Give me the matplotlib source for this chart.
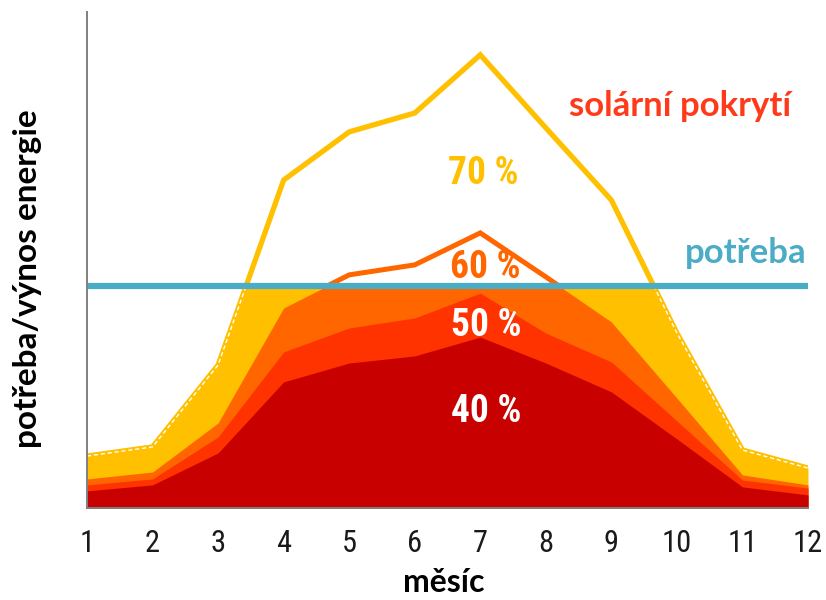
import matplotlib
matplotlib.use("Agg")
import matplotlib.pyplot as plt
from matplotlib.patches import Rectangle
from matplotlib import font_manager
import numpy as np

# ---- data (relative units, demand = 100) ----
months = [1, 2, 3, 4, 5, 6, 7, 8, 9, 10, 11, 12]
demand = 100.0
yield_70 = [23.4, 27.5, 64.4, 147.7, 169.4, 177.9, 204.1, 171.2, 138.7, 78.8, 26.1, 18.0]
yield_60 = [13.1, 16.2, 38.3, 90.1, 105.0, 109.5, 123.9, 104.1, 83.8, 49.5, 14.9, 10.4]
yield_50 = [10.4, 13.1, 32.0, 70.3, 81.1, 85.6, 96.8, 78.8, 65.8, 39.2, 12.6, 9.0]
yield_40 = [7.7, 10.4, 24.8, 56.8, 65.3, 68.5, 77.0, 65.3, 52.3, 31.1, 9.5, 5.9]
tick_labels = [str(m) for m in months]

names = {f.name for f in font_manager.fontManager.ttflist}
narrow = "DejaVu Sans"
for cand in ["Liberation Sans Narrow", "Roboto Condensed", "Open Sans Condensed"]:
    if cand in names:
        narrow = cand
        break
label_font = "Lato" if "Lato" in names else "DejaVu Sans"

YELLOW = "#FFC000"
ORANGE = "#FF6600"
RED = "#FF3300"
DARKRED = "#C80000"
BLUE = "#4BACC6"

fig = plt.figure(figsize=(8.26, 6.0), dpi=100)
ax = fig.add_axes([87/826, 1 - 508/600, (808-87)/826, (508-12)/600])
ax.set_xlim(1, 12)
ax.set_ylim(0, 223.4)

x = np.array(months, dtype=float)

# lines (under the fills)
ax.plot(x, yield_70, color=YELLOW, lw=3.8, zorder=1, solid_joinstyle="miter")
ax.plot(x, yield_60, color=ORANGE, lw=3.6, zorder=1, solid_joinstyle="miter")

clip = Rectangle((1, 0), 11, demand, transform=ax.transData)
for vals, col in [(yield_70, YELLOW), (yield_60, ORANGE), (yield_50, RED), (yield_40, DARKRED)]:
    f = ax.fill_between(x, 0, vals, color=col, lw=0, zorder=2)
    f.set_clip_path(clip)
# white dashed edge of the 70 % fill
edge, = ax.plot(x, yield_70, color="white", lw=1.0, ls=(0, (3, 2)), zorder=2.5)
edge.set_clip_path(Rectangle((1, 0), 11, demand - 1.5, transform=ax.transData))

ax.axhline(demand, color=BLUE, lw=4.5, zorder=3)

for s in ["top", "right"]:
    ax.spines[s].set_visible(False)
for s in ["left", "bottom"]:
    ax.spines[s].set_color("#808080")
    ax.spines[s].set_linewidth(1.4)
    ax.spines[s].set_zorder(4)
ax.set_yticks([])
ax.set_xticks(months)
ax.set_xticklabels(tick_labels, fontfamily=narrow, fontsize=22, fontstretch="condensed")
ax.tick_params(axis="x", length=0, pad=15, colors="#1a1a1a")

def ptxt(px, py, s, **kw):
    fig.text(px/826, 1 - py/600, s, ha="center", va="center", **kw)

ptxt(680, 106, "solární pokrytí", color="#FF3A1A", fontsize=25, fontweight="bold", fontfamily=label_font)
ptxt(746, 253, "potřeba", color=BLUE, fontsize=25, fontweight="bold", fontfamily=label_font)
pct_kw = dict(fontsize=27, fontweight="bold", fontfamily=narrow, fontstretch="condensed")
ptxt(483, 173, "70 %", color=YELLOW, **pct_kw)
ptxt(485, 267, "60 %", color=ORANGE, **pct_kw)
ptxt(486, 325, "50 %", color="white", **pct_kw)
ptxt(486, 411, "40 %", color="white", **pct_kw)
ptxt(444, 583, "měsíc", color="black", fontsize=23, fontweight="bold", fontfamily=label_font)
ptxt(28, 279, "potřeba/výnos energie", color="black", fontsize=24, fontweight="bold",
     fontfamily=label_font, rotation=90)

fig.savefig("out.png", dpi=100)
